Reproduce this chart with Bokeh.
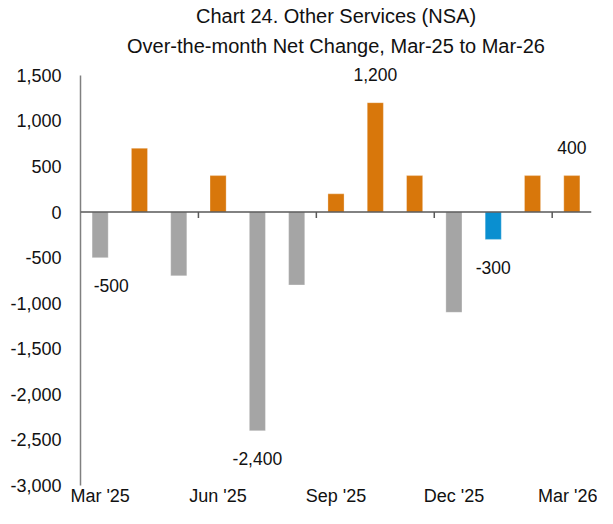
from bokeh.plotting import figure
from bokeh.models import (ColumnDataSource, FixedTicker, Range1d, Title, Span,
                          NumeralTickFormatter, LabelSet)
from bokeh.core.properties import value
from bokeh.embed import file_html
from bokeh.resources import INLINE

# ---- data ----
months = ["Mar '25", "Apr '25", "May '25", "Jun '25", "Jul '25", "Aug '25", "Sep '25",
          "Oct '25", "Nov '25", "Dec '25", "Jan '26", "Feb '26", "Mar '26"]
net_change = [-500, 700, -700, 400, -2400, -800, 200, 1200, 400, -1100, -300, 400, 400]
highlight_month = "Jan '26"
labeled_months = ["Mar '25", "Jul '25", "Oct '25", "Jan '26", "Mar '26"]
y_ticks = [1500, 1000, 500, 0, -500, -1000, -1500, -2000, -2500, -3000]
x_tick_months = ["Mar '25", "Jun '25", "Sep '25", "Dec '25", "Mar '26"]
title_line1 = "Chart 24. Other Services (NSA)"
title_line2 = "Over-the-month Net Change, Mar-25 to Mar-26"

# ---- styles ----
ORANGE = "#D8770B"
GRAY = "#A5A5A5"
BLUE = "#0A8FD0"
FONT = "Liberation Sans"
TXT = "#111111"
label_dx = {"Mar '25": 11}

Y_MIN, Y_MAX, Y_TOP_PAD = -3000, 1500, 130
W, H = 597, 508
B_LEFT, B_RIGHT, B_TOP, B_BOTTOM = 80, 6, 63, 20
px_per_unit = (H - B_TOP - B_BOTTOM) / float(Y_MAX + Y_TOP_PAD - Y_MIN)

xs = list(range(len(months)))
colors = []
for m, v in zip(months, net_change):
    if m == highlight_month:
        colors.append(BLUE)
    elif v >= 0:
        colors.append(ORANGE)
    else:
        colors.append(GRAY)

src = ColumnDataSource(dict(x=xs, top=net_change, color=colors))

p = figure(width=W, height=H, output_backend="svg", toolbar_location=None,
           x_range=Range1d(-0.5, len(months) - 0.5),
           y_range=Range1d(Y_MIN, Y_MAX + Y_TOP_PAD),
           min_border_left=B_LEFT, min_border_right=B_RIGHT,
           min_border_top=B_TOP, min_border_bottom=B_BOTTOM)
p.outline_line_color = None
p.grid.grid_line_color = None
p.background_fill_color = "white"
p.border_fill_color = "white"

p.vbar(x="x", top="top", bottom=0, width=0.41, fill_color="color",
       line_color="white", line_alpha=0.5, line_width=0.6, source=src)

# zero line
p.add_layout(Span(location=0, dimension="width", line_color="#595959", line_width=1.5))

# tick marks on zero line, between quarter groups
bx = [xs[months.index(m)] - 0.5 for m in x_tick_months[1:]]
tick_len = 6 / px_per_unit
p.segment(x0=bx, y0=[0] * len(bx), x1=bx, y1=[-tick_len] * len(bx),
          line_color="#595959", line_width=1.5)

# y axis
ya = p.yaxis[0]
ya.ticker = FixedTicker(ticks=y_ticks)
ya.formatter = NumeralTickFormatter(format="0,0")
ya.bounds = (Y_MIN, Y_MAX)
ya.axis_line_color = "#808080"
ya.axis_line_width = 1.5
ya.major_tick_out = 0
ya.major_tick_in = 0
ya.minor_tick_out = 0
ya.minor_tick_in = 0
ya.axis_label_standoff = 0
ya.major_label_standoff = 19
ya.major_label_text_font = FONT
ya.major_label_text_font_size = "18px"
ya.major_label_text_color = TXT

# x axis
xa = p.xaxis[0]
xa.ticker = FixedTicker(ticks=[xs[months.index(m)] for m in x_tick_months])
xa.major_label_overrides = {xs[months.index(m)]: m for m in x_tick_months}
xa.axis_line_color = None
xa.major_tick_out = 0
xa.major_tick_in = 0
xa.minor_tick_out = 0
xa.minor_tick_in = 0
xa.axis_label_standoff = 0
xa.major_label_standoff = 0
xa.major_label_text_font = FONT
xa.major_label_text_font_size = "18px"
xa.major_label_text_color = TXT

# data labels
lx, ly, lt, lyoff, lxoff = [], [], [], [], []
for m in labeled_months:
    i = months.index(m)
    v = net_change[i]
    lx.append(xs[i])
    ly.append(v)
    lt.append(f"{v:,}")
    lyoff.append(28 if v >= 0 else -28)
    lxoff.append(label_dx.get(m, 0))
lsrc = ColumnDataSource(dict(x=lx, y=ly, text=lt, yoff=lyoff, xoff=lxoff))
p.add_layout(LabelSet(x="x", y="y", text="text", y_offset="yoff", x_offset="xoff", source=lsrc,
                      text_align="center", text_baseline="middle",
                      text_font=value(FONT), text_font_size="17.5px", text_color=TXT))

# titles (second line added first so it sits nearer the plot)
p.add_layout(Title(text=title_line2, align="center", text_font=FONT, text_font_size="20px",
                   text_font_style="normal", text_color=TXT, standoff=13,
                   text_line_height=1.0), "above")
p.add_layout(Title(text=title_line1, align="center", text_font=FONT, text_font_size="20px",
                   text_font_style="normal", text_color=TXT, standoff=0,
                   text_line_height=1.0), "above")

open("out.html", "w").write(file_html(p, INLINE))
